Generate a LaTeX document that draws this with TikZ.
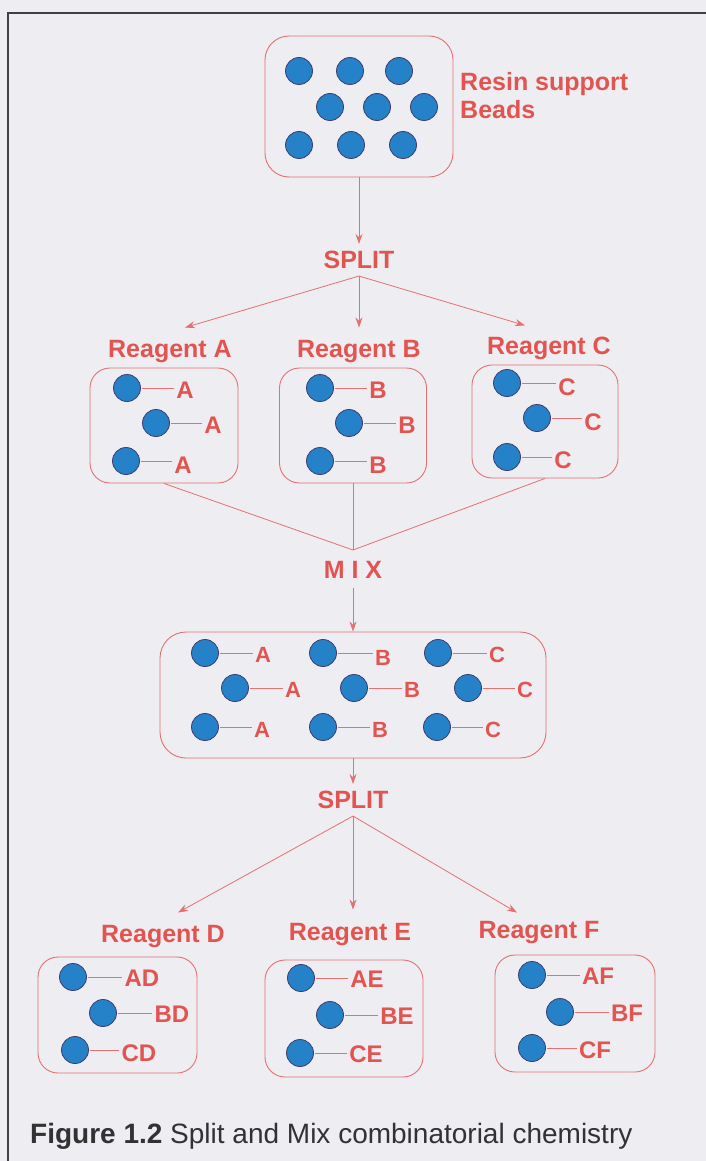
\documentclass[tikz,border=0pt]{standalone}
\usepackage{fontspec}
\setmainfont{Liberation Sans}
\newfontfamily\redf{Liberation Sans}
\usetikzlibrary{arrows.meta}
\definecolor{bg}{RGB}{238,237,242}
\definecolor{rd}{RGB}{226,84,80}
\definecolor{ln}{RGB}{228,112,112}
\definecolor{bd}{RGB}{38,130,200}
\definecolor{bdo}{RGB}{60,60,110}
\definecolor{capc}{RGB}{50,50,50}
\tikzset{
  bead/.style={circle, fill=bd, draw=bdo, line width=0.8pt, minimum size=27pt, inner sep=0pt},
  lab/.style={text=rd, font=\redf\bfseries\fontsize{24}{24}\selectfont, inner sep=0pt},
  rlab/.style={text=rd, font=\redf\bfseries\fontsize{25}{25}\selectfont, inner sep=0pt},
  mlab/.style={lab, font=\redf\bfseries\fontsize{22}{22}\selectfont},
  head/.style={text=rd, font=\redf\bfseries\fontsize{25}{25}\selectfont, inner xsep=0pt, inner ysep=7pt},
  box/.style={draw=ln, line width=0.9pt, rounded corners=20pt},
  conn/.style={draw=ln, line width=0.8pt},
  arr/.style={conn, -{Stealth[length=10pt,width=7pt]}},
  stub/.style={draw=ln, line width=0.7pt, shorten >=2pt, shorten <=1pt}
}
% bead with a labelled stub: name, bead position, label position, text, label style
\newcommand\mkbead[5]{%
  \node[bead] (#1) at (#2) {};
  \node[#5] (#1l) at (#3) {#4};
  \draw[stub] (#1.east) -- (#1.east -| #1l.west);}
\begin{document}
\begin{tikzpicture}[x=1pt,y=-1pt]
\useasboundingbox (0,0) rectangle (706,1161);
\fill[bg] (0,0) rectangle (706,1161);
\draw[black!75, line width=1.5pt] (8,1161) -- (8,13) -- (706,13);

% top box
\node[box, rounded corners=24pt, minimum width=188pt, minimum height=141pt] (top) at (359,106.5) {};
\foreach \n/\p in {t1/{299,71}, t2/{350,71}, t3/{399,71}, t4/{330,107}, t5/{377,107}, t6/{424,107}, t7/{299,145}, t8/{351,145}, t9/{403,145}}
  \node[bead] (\n) at (\p) {};
\node[text=rd, font=\redf\bfseries\fontsize{25}{28}\selectfont, align=left, anchor=west, inner sep=0pt] (resin) at (460,96) {Resin support\\Beads};

% first split
\node[head] (split1) at (359,260) {SPLIT};
\draw[arr] (top.south) -- (split1.north);

\node[rlab] (ra) at (170,352) {Reagent A};
\node[rlab] (rb) at (359,352) {Reagent B};
\node[rlab] (rc) at (549,348) {Reagent C};
\draw[arr] (split1.south) -- ([xshift=15pt,yshift=13pt]ra.north);
\draw[arr] (split1.south) -- ([yshift=13pt]rb.north);
\draw[arr] (split1.south) -- ([xshift=-24pt,yshift=11pt]rc.north);

\node[box, minimum width=148pt, minimum height=115pt] (boxa) at (164,425.5) {};
\node[box, minimum width=147pt, minimum height=115pt] (boxb) at (353,425.5) {};
\node[box, minimum width=146pt, minimum height=113pt] (boxc) at (545,421.5) {};

\mkbead{a1}{127,388}{185,390}{A}{lab}
\mkbead{a2}{156,423}{213,425}{A}{lab}
\mkbead{a3}{126,461}{183,465}{A}{lab}
\mkbead{b1}{320,388}{378,390}{B}{lab}
\mkbead{b2}{349,423}{407,425}{B}{lab}
\mkbead{b3}{320,461}{378,465}{B}{lab}
\mkbead{c1}{507,383}{567,387}{C}{lab}
\mkbead{c2}{537,418}{593,422}{C}{lab}
\mkbead{c3}{507,457}{563,460}{C}{lab}

% mix
\coordinate (mixpt) at (353,550);
\draw[conn] (boxa.south) -- (mixpt);
\draw[conn] (boxb.south) -- (mixpt);
\draw[conn] (boxc.south) -- (mixpt);
\node[head, inner ysep=9pt] (mix) at (353,570) {M I X};
\node[box, rounded corners=26pt, minimum width=386pt, minimum height=126pt] (mixbox) at (353,695) {};
\draw[arr] (mix.south) -- (mixbox.north);

\mkbead{m1}{205,653}{263,655}{A}{mlab}
\mkbead{m2}{323,653}{383,658}{B}{mlab}
\mkbead{m3}{438,653}{497,655}{C}{mlab}
\mkbead{m4}{235,688}{293,690}{A}{mlab}
\mkbead{m5}{354,688}{412,690}{B}{mlab}
\mkbead{m6}{468,688}{525,690}{C}{mlab}
\mkbead{m7}{205,727}{262,730}{A}{mlab}
\mkbead{m8}{323,727}{380,730}{B}{mlab}
\mkbead{m9}{437,727}{493,730}{C}{mlab}

% second split
\node[head] (split2) at (353,800) {SPLIT};
\draw[arr] (mixbox.south) -- (split2.north);

\node[rlab] (rd) at (163,937) {Reagent D};
\node[rlab] (re) at (350,935) {Reagent E};
\node[rlab] (rf) at (539,933) {Reagent F};
\draw[arr] (split2.south) -- ([xshift=15pt,yshift=13pt]rd.north);
\draw[arr] (split2.south) -- ([xshift=3pt,yshift=14pt]re.north);
\draw[arr] (split2.south) -- ([xshift=-22pt,yshift=9pt]rf.north);

\node[box, minimum width=159pt, minimum height=116pt] (boxd) at (117.5,1015) {};
\node[box, minimum width=158pt, minimum height=117pt] (boxe) at (344,1018.5) {};
\node[box, minimum width=160pt, minimum height=117pt] (boxf) at (575,1013.5) {};

\mkbead{d1}{73,977}{142,978}{AD}{lab}
\mkbead{d2}{103,1013}{172,1014}{BD}{lab}
\mkbead{d3}{75,1050}{139,1053}{CD}{lab}
\mkbead{e1}{301,978}{367,979}{AE}{lab}
\mkbead{e2}{330,1015}{397,1016}{BE}{lab}
\mkbead{e3}{300,1053}{366,1054}{CE}{lab}
\mkbead{f1}{532,975}{598,976}{AF}{lab}
\mkbead{f2}{560,1012}{627,1013}{BF}{lab}
\mkbead{f3}{532,1048}{595,1050}{CF}{lab}

% caption
\node[anchor=west, inner sep=0pt, text=capc, font=\fontsize{28}{28}\selectfont] (cap) at (30,1136) {\textbf{Figure 1.2} Split and Mix combinatorial chemistry};
\end{tikzpicture}
\end{document}
